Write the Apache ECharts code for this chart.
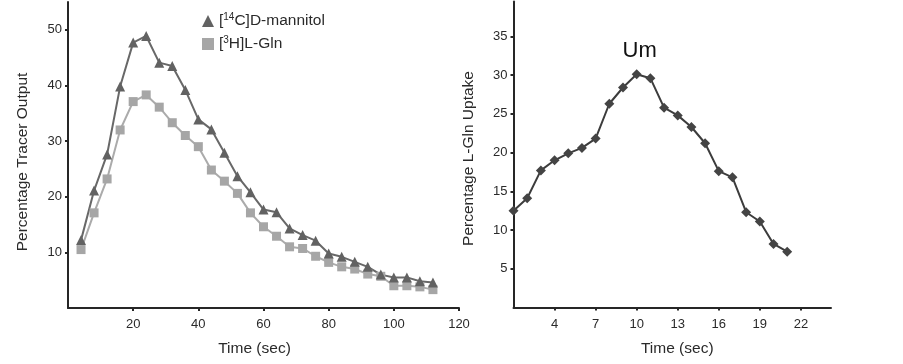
<!DOCTYPE html>
<html>
<head>
<meta charset="utf-8">
<script src="https://cdn.jsdelivr.net/npm/echarts@6/dist/echarts.min.js"></script>
<style>
  html, body { margin: 0; padding: 0; background: #fff; }
  #chart { width: 903px; height: 364px; }
</style>
</head>
<body>
<div id="chart"></div>
<script>
// left panel: tracer output
var timeLeft = [4, 8, 12, 16, 20, 24, 28, 32, 36, 40, 44, 48, 52, 56, 60, 64, 68, 72, 76, 80, 84, 88, 92, 96, 100, 104, 108, 112];
var mannitol = [12.2, 21.1, 27.6, 39.8, 47.7, 48.9, 44.1, 43.5, 39.2, 33.9, 32.1, 27.9, 23.7, 20.8, 17.7, 17.2, 14.3, 13.1, 12.1, 9.8, 9.2, 8.3, 7.4, 6.0, 5.5, 5.5, 4.8, 4.6];
var glnOutput = [10.5, 17.1, 23.2, 32.0, 37.1, 38.3, 36.1, 33.3, 31.0, 29.0, 24.8, 22.8, 20.6, 17.1, 14.6, 12.9, 11.0, 10.7, 9.3, 8.2, 7.4, 7.0, 6.1, 5.7, 4.0, 4.0, 3.8, 3.3];
var xTicksLeft = [20, 40, 60, 80, 100, 120];
var yTicksLeft = [10, 20, 30, 40, 50];

// right panel: uptake
var timeRight = [1, 2, 3, 4, 5, 6, 7, 8, 9, 10, 11, 12, 13, 14, 15, 16, 17, 18, 19, 20, 21];
var uptake = [12.5, 14.1, 17.7, 19.0, 19.9, 20.6, 21.8, 26.3, 28.4, 30.1, 29.6, 25.8, 24.8, 23.3, 21.2, 17.6, 16.8, 12.3, 11.1, 8.2, 7.2];
var xTicksRight = [4, 7, 10, 13, 16, 19, 22];
var yTicksRight = [5, 10, 15, 20, 25, 30, 35];
var peakLabel = 'Um';

var FONT = '"Liberation Sans", Arial, sans-serif';

function pairs(xs, ys) {
  return xs.map(function (x, i) { return [x, ys[i]]; });
}

var uptakeData = pairs(timeRight, uptake).map(function (p) {
  if (p[1] === Math.max.apply(null, uptake)) {
    return {
      value: p,
      label: {
        show: true, formatter: peakLabel, position: 'top', distance: 7, offset: [3, 0],
        color: '#111', fontSize: 22, fontFamily: FONT
      }
    };
  }
  return p;
});

function axisCommon() {
  return {
    axisLine: { show: true, lineStyle: { color: '#262626', width: 2 } },
    axisTick: { show: true, length: 3, lineStyle: { color: '#262626', width: 2 } },
    splitLine: { show: false },
    axisLabel: { color: '#2a2a2a', fontSize: 13, fontFamily: FONT },
    nameTextStyle: { color: '#2a2a2a', fontSize: 15.5, fontFamily: FONT }
  };
}

function xAx(idx, min, max, ticks, pad) {
  var a = axisCommon();
  a.type = 'value'; a.gridIndex = idx; a.min = min; a.max = max;
  a.axisTick.customValues = ticks;
  a.axisLabel.customValues = ticks;
  a.axisLabel.margin = 10;
  a.name = 'Time (sec)'; a.nameLocation = 'middle'; a.nameGap = 33;
  a.nameTextStyle.padding = pad;
  return a;
}

function yAx(idx, max, ticks, name, pad) {
  var a = axisCommon();
  a.type = 'value'; a.gridIndex = idx; a.min = 0; a.max = max;
  a.axisTick.customValues = ticks;
  a.axisLabel.customValues = ticks;
  a.axisLabel.margin = 6;
  a.name = name; a.nameLocation = 'middle'; a.nameGap = 37;
  a.nameTextStyle.padding = pad;
  return a;
}

var chart = echarts.init(document.getElementById('chart'));
chart.setOption({
  animation: false,
  backgroundColor: '#fff',
  textStyle: { fontFamily: FONT },
  grid: [
    { left: 68, width: 391, top: 2, bottom: 56 },
    { left: 513.5, width: 317.5, top: 1.5, bottom: 56.5 }
  ],
  legend: {
    orient: 'vertical', left: 197, top: 7, itemGap: 6,
    itemWidth: 12, itemHeight: 12,
    textStyle: {
      color: '#2a2a2a', fontSize: 15.5, fontFamily: FONT,
      rich: {
        sup: { fontSize: 10, verticalAlign: 'top', lineHeight: 18, color: '#2a2a2a' },
        t: { fontSize: 15.5, lineHeight: 18, color: '#2a2a2a' }
      }
    },
    formatter: function (n) {
      var m = n.match(/^\[(\d+)(.*)$/);
      return '{t|[}{sup|' + m[1] + '}{t|' + m[2] + '}';
    },
    data: [{ name: '[14C]D-mannitol', icon: 'triangle' }, { name: '[3H]L-Gln', icon: 'rect' }]
  },
  xAxis: [
    xAx(0, 0, 120, xTicksLeft, [0, 18, 0, 0]),
    xAx(1, 1, 24.2, xTicksRight, [0, 0, 0, 10])
  ],
  yAxis: [
    yAx(0, 55, yTicksLeft, 'Percentage Tracer Output', [0, 14, 0, 0]),
    yAx(1, 39.5, yTicksRight, 'Percentage L-Gln Uptake', [0, 8, 0, 0])
  ],
  series: [
    {
      name: '[3H]L-Gln', type: 'line', xAxisIndex: 0, yAxisIndex: 0,
      data: pairs(timeLeft, glnOutput), symbol: 'rect', symbolSize: 9,
      lineStyle: { color: '#ababab', width: 2 }, itemStyle: { color: '#a6a6a6' }
    },
    {
      name: '[14C]D-mannitol', type: 'line', xAxisIndex: 0, yAxisIndex: 0,
      data: pairs(timeLeft, mannitol), symbol: 'triangle', symbolSize: 10,
      lineStyle: { color: '#686868', width: 2 }, itemStyle: { color: '#626262' }
    },
    {
      name: 'uptake', type: 'line', xAxisIndex: 1, yAxisIndex: 1, clip: false,
      data: uptakeData, symbol: 'diamond', symbolSize: 10,
      lineStyle: { color: '#3c3c3c', width: 2 }, itemStyle: { color: '#444' }
    }
  ]
});
</script>
</body>
</html>
